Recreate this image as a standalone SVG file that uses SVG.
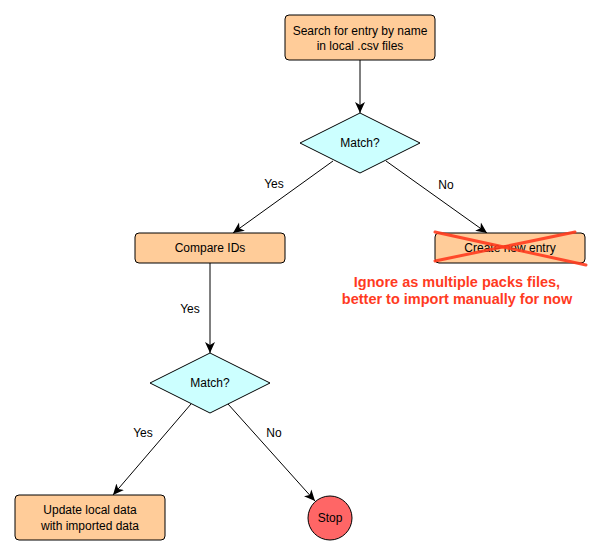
<svg xmlns="http://www.w3.org/2000/svg" width="600" height="556" viewBox="0 0 600 556">
<defs>
<marker id="arr" markerUnits="userSpaceOnUse" markerWidth="12" markerHeight="12" viewBox="0 0 12 10" refX="11" refY="5" orient="auto">
<path d="M0,0 L11,5 L0,10 L3,5 Z" fill="#000"/>
</marker>
<style>
.box{fill:#ffcc99;stroke:#000;stroke-width:1}
.dia{fill:#ccffff;stroke:#000;stroke-width:1}
.t{font-family:"Liberation Sans",Arial,sans-serif;font-size:12px;fill:#000;text-anchor:middle}
.edge{fill:none;stroke:#000;stroke-width:1;marker-end:url(#arr)}
.red{font-family:"Liberation Sans",Arial,sans-serif;font-size:14.5px;font-weight:bold;fill:#ff3b1f;text-anchor:middle}
.cross{stroke:#ff3b1f;stroke-width:3;stroke-linecap:round;opacity:0.9}
</style>
</defs>
<rect width="600" height="556" fill="#fff"/>
<g id="connectors">
<path class="edge" d="M360,60 L360,113"/>
<path class="edge" d="M333,161 L233,233"/>
<path class="edge" d="M386,161 L487,233"/>
<path class="edge" d="M210,263 L210,353"/>
<path class="edge" d="M191,404 L113,495"/>
<path class="edge" d="M228,404 L315,501"/>
<text class="t" x="274" y="188">Yes</text>
<text class="t" x="446" y="189">No</text>
<text class="t" x="190" y="313">Yes</text>
<text class="t" x="143" y="437">Yes</text>
<text class="t" x="274" y="437">No</text>
</g>
<g id="search">
<rect class="box" x="285" y="15" width="150" height="45" rx="4"/>
<text class="t" x="360" y="35">Search for entry by name</text>
<text class="t" x="360" y="50">in local .csv files</text>
</g>
<g id="match1">
<polygon class="dia" points="360,113 420,143 360,173 300,143"/>
<text class="t" x="360" y="147">Match?</text>
</g>
<g id="compare">
<rect class="box" x="135" y="233" width="150" height="30" rx="4"/>
<text class="t" x="210" y="252">Compare IDs</text>
</g>
<g id="create">
<rect class="box" x="435" y="233" width="150" height="30" rx="4"/>
<text class="t" x="510" y="252">Create new entry</text>
<line class="cross" x1="435" y1="232" x2="586" y2="265"/>
<line class="cross" x1="435" y1="261" x2="575" y2="232"/>
</g>
<g id="note">
<text class="red" x="457" y="287">Ignore as multiple packs files,</text>
<text class="red" x="457" y="304">better to import manually for now</text>
</g>
<g id="match2">
<polygon class="dia" points="210,353 270,383 210,413 150,383"/>
<text class="t" x="210" y="387">Match?</text>
</g>
<g id="update">
<rect class="box" x="15" y="495" width="150" height="45" rx="4"/>
<text class="t" x="90" y="514">Update local data</text>
<text class="t" x="90" y="530">with imported data</text>
</g>
<g id="stop">
<circle cx="330" cy="518" r="22" fill="#ff6666" stroke="#000" stroke-width="1"/>
<text class="t" x="330" y="522">Stop</text>
</g>
</svg>
